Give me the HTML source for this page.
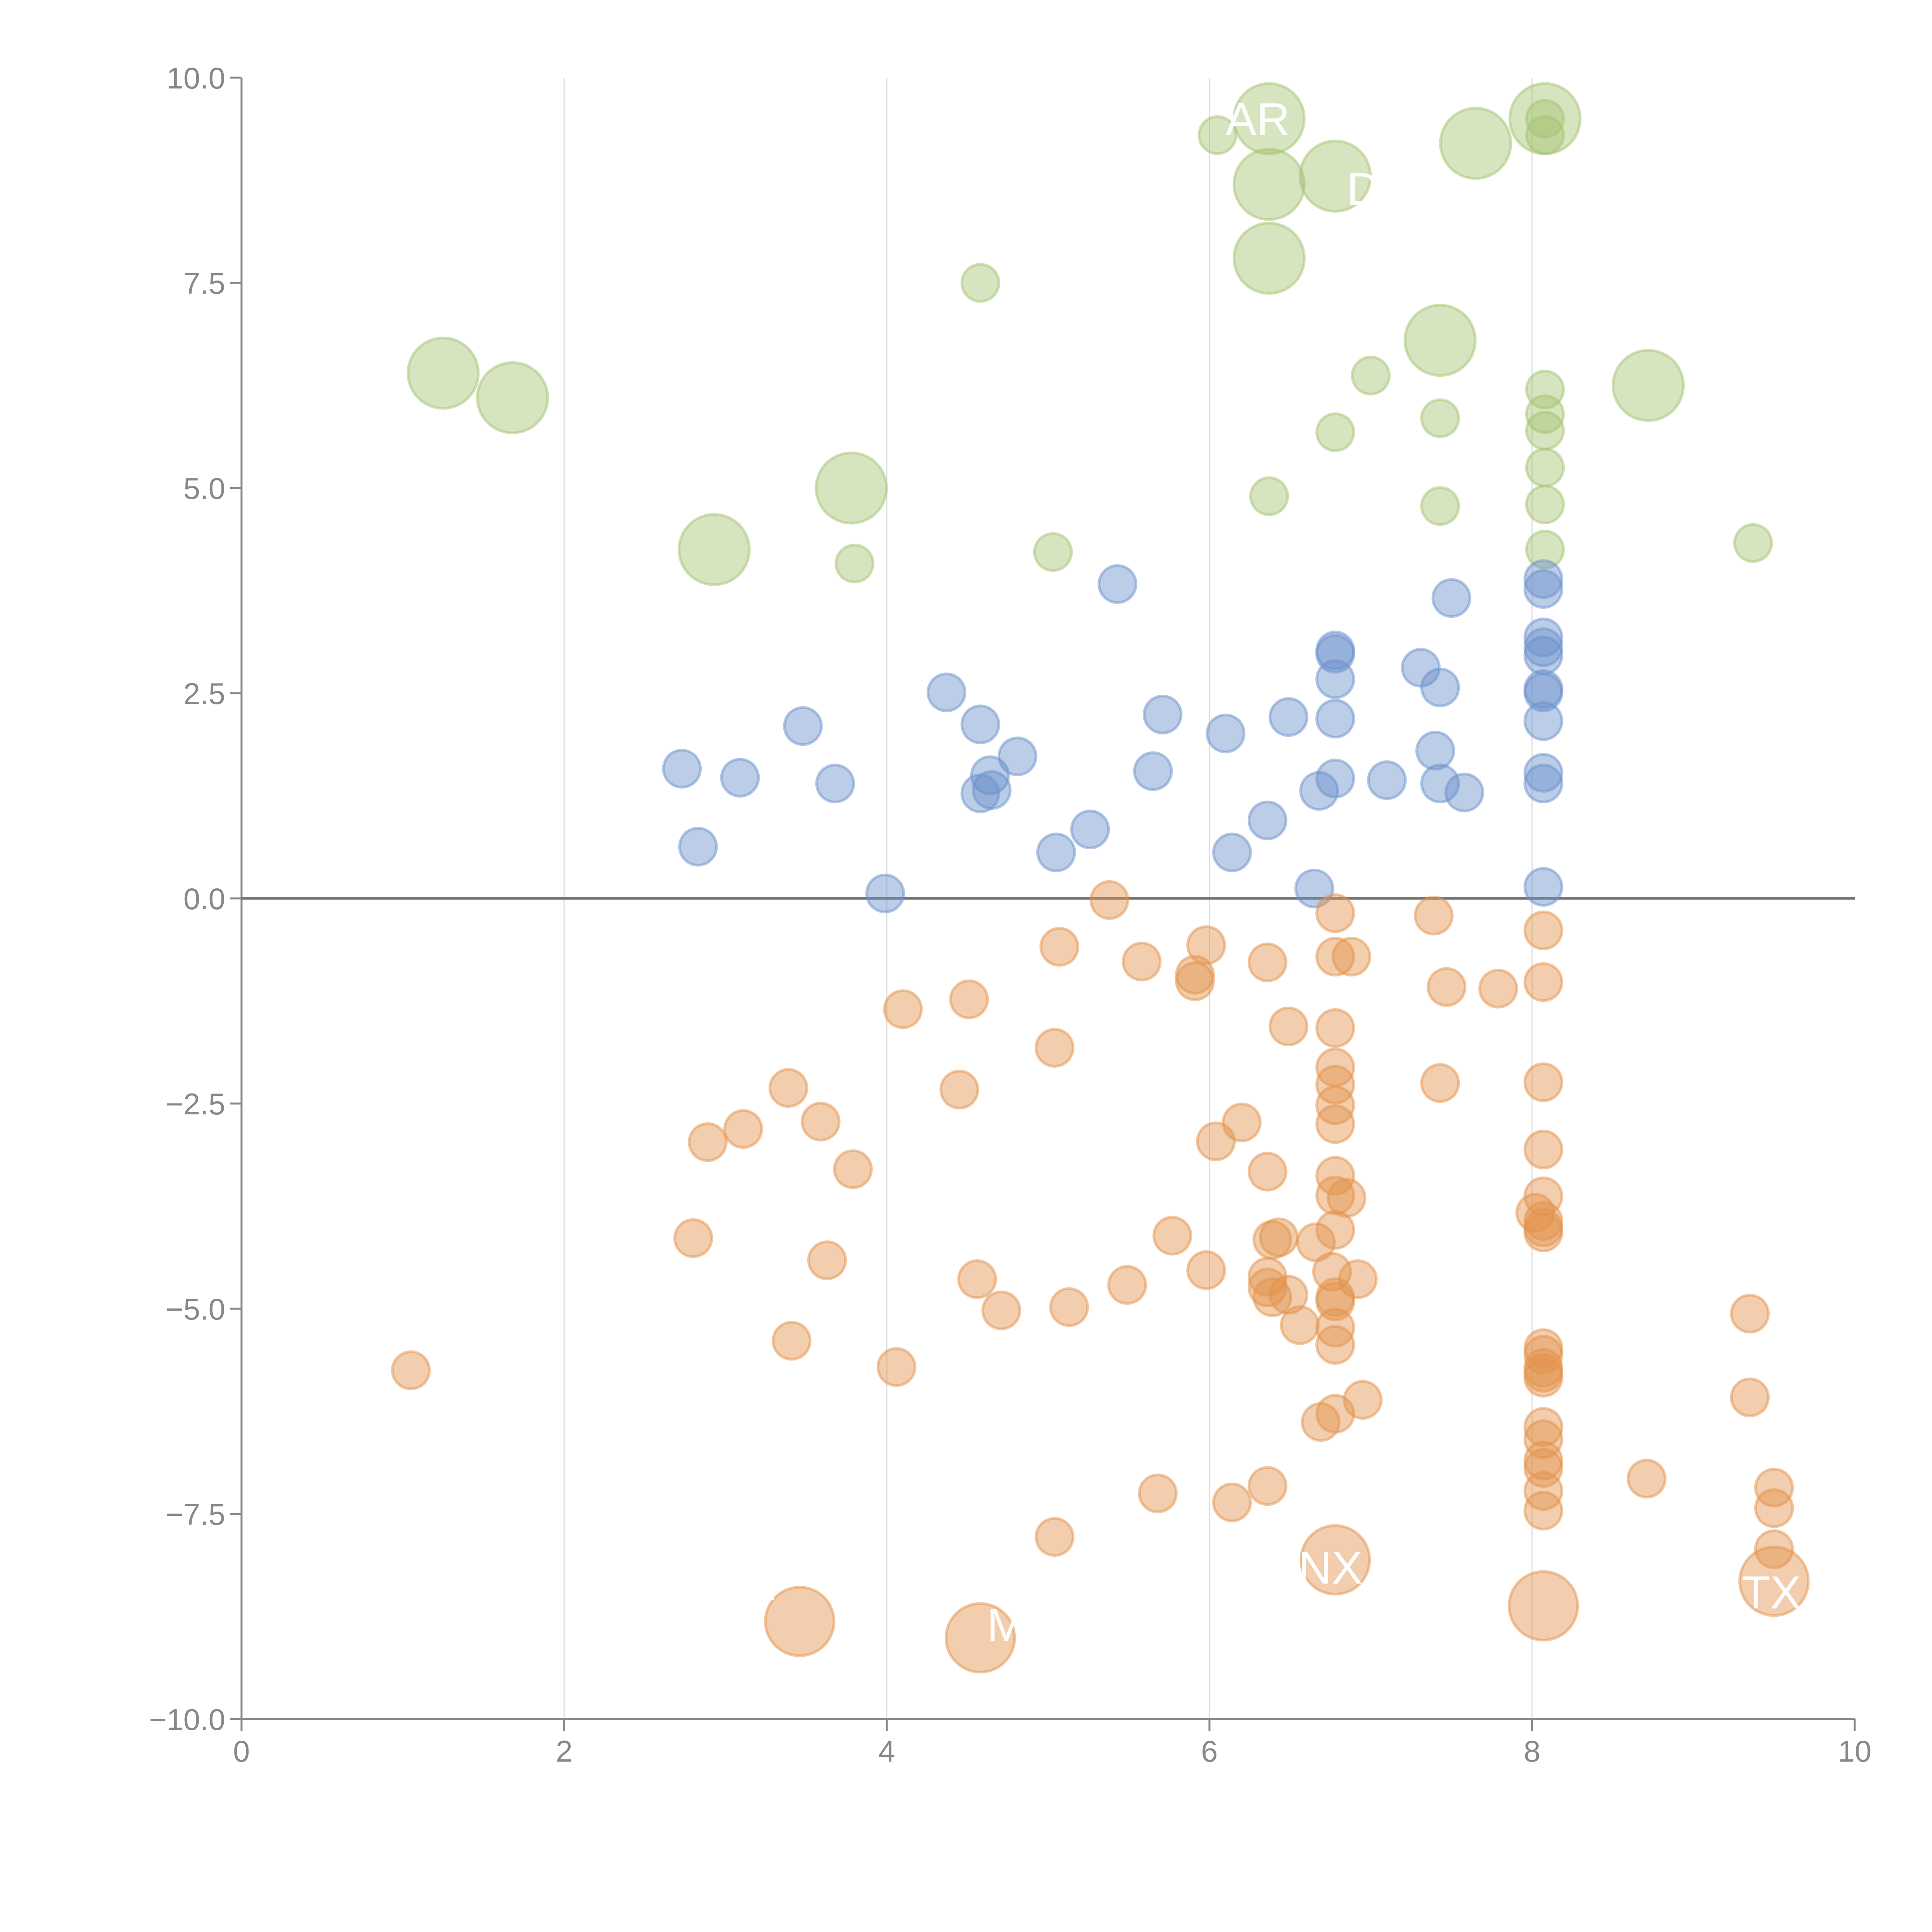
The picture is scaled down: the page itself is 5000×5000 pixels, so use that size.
<!DOCTYPE html>
<html><head><meta charset="utf-8"><style>
html,body{margin:0;padding:0;background:#fff;}
svg{display:block;font-family:"Liberation Sans",Arial,sans-serif;}
</style></head><body>
<svg id="chart" width="5000" height="5000" viewBox="0 0 5000 5000" xmlns="http://www.w3.org/2000/svg">
<rect width="5000" height="5000" fill="#fff"/>
<g id="grid"></g>
<g id="axes"></g>
<g id="marks"></g>
<g id="labels"></g>
</svg>
<script>
const xTicks=[0,2,4,6,8,10];
const yTicks=[-10,-7.5,-5,-2.5,0,2.5,5,7.5,10];
const yTickLabels=["\u221210.0","\u22127.5","\u22125.0","\u22122.5","0.0","2.5","5.0","7.5","10.0"];

const greenX=[1.25,1.68,2.93,3.78,6.37,6.37,6.37,6.78,7.65,7.43,8.08,8.72,4.58,6.05,7.0,6.78,7.43,8.08,8.08,8.08,8.08,8.08,8.08,7.43,6.37,5.03,3.8,9.37,8.08,8.08];
const greenY=[6.4,6.1,4.25,5.0,9.5,8.7,7.8,8.8,9.2,6.8,9.5,6.25,7.5,9.3,6.37,5.68,5.85,6.2,5.9,5.7,5.25,4.8,4.25,4.78,4.9,4.22,4.08,4.33,9.5,9.3];
const greenSize=[3.6,3.6,3.6,3.6,3.6,3.6,3.6,3.6,3.6,3.6,3.6,3.6,1,1,1,1,1,1,1,1,1,1,1,1,1,1,1,1,1,1];

const blueX=[5.43,7.50,8.07,8.07,6.78,6.78,8.07,8.07,8.07,7.31,6.78,7.43,8.07,8.07,4.37,5.71,6.49,6.78,8.07,3.48,4.58,6.10,7.40,4.81,2.73,3.09,5.65,8.07,4.64,6.78,7.10,3.68,7.43,8.07,4.65,4.58,6.68,7.58,5.26,6.36,2.83,5.05,6.14,6.65,8.07,3.99];
const blueY=[3.83,3.66,3.89,3.77,3.02,2.98,3.18,3.06,2.96,2.81,2.67,2.57,2.55,2.51,2.51,2.24,2.21,2.19,2.16,2.10,2.12,2.01,1.80,1.73,1.58,1.47,1.55,1.53,1.50,1.46,1.44,1.40,1.40,1.40,1.32,1.28,1.31,1.29,0.84,0.95,0.63,0.56,0.56,0.12,0.14,0.06];

const orangeX=[5.38,6.78,7.39,8.07,5.07,5.98,5.58,6.36,6.78,6.88,5.91,5.91,8.07,7.47,7.79,4.51,4.10,6.49,6.78,5.04,6.78,6.78,7.43,8.07,3.39,4.45,6.78,6.78,3.59,6.20,3.11,2.89,6.04,8.07,3.79,6.36,6.78,6.78,6.85,8.07,8.02,8.07,8.07,8.07,6.78,5.77,2.80,6.43,6.39,6.66,3.63,5.98,6.36,6.76,6.92,4.56,5.49,6.36,6.39,6.49,6.78,6.78,4.71,5.13,9.35,6.56,6.78,3.41,6.78,8.07,8.07,8.07,8.07,8.07,1.05,4.06,9.35,6.95,6.78,6.69,8.07,8.07,8.07,8.07,8.71,6.36,9.50,5.68,8.07,6.14,9.50,8.07,5.04,9.50,6.78,9.50,8.07,3.46,4.58];
const orangeY=[-0.02,-0.18,-0.21,-0.39,-0.59,-0.57,-0.77,-0.78,-0.71,-0.71,-0.93,-1.01,-1.02,-1.08,-1.10,-1.23,-1.35,-1.56,-1.58,-1.82,-2.06,-2.27,-2.25,-2.24,-2.31,-2.33,-2.52,-2.75,-2.72,-2.73,-2.81,-2.97,-2.96,-3.06,-3.30,-3.33,-3.38,-3.62,-3.65,-3.63,-3.83,-3.93,-4.01,-4.07,-4.04,-4.11,-4.14,-4.13,-4.16,-4.19,-4.41,-4.53,-4.61,-4.55,-4.64,-4.64,-4.71,-4.74,-4.86,-4.83,-4.86,-4.91,-5.02,-4.98,-5.06,-5.20,-5.23,-5.39,-5.44,-5.48,-5.56,-5.72,-5.78,-5.84,-5.75,-5.71,-6.08,-6.11,-6.28,-6.38,-6.44,-6.59,-6.85,-6.94,-7.07,-7.16,-7.18,-7.25,-7.22,-7.36,-7.43,-7.46,-7.78,-7.93,-8.06,-8.32,-8.62,-8.81,-9.01];

const labelText=["AR","DO","TX","NX","M","P"];
const labelX=[6.1,6.85,9.3,6.55,4.62,3.25];
const labelY=[9.3,8.45,-8.65,-8.35,-9.05,-8.55];

const X0=625,X1=4800,Y0=4449,Y1=201;
const xs=v=>X0+(v-0)/(10-0)*(X1-X0);
const ys=v=>Y0-(v+10)/20*(Y0-Y1);
const NS="http://www.w3.org/2000/svg";
function mk(tag,parent,attrs){const e=document.createElementNS(NS,tag);for(const k in attrs)e.setAttribute(k,attrs[k]);parent.appendChild(e);return e;}
const grid=document.getElementById('grid'),axes=document.getElementById('axes'),marks=document.getElementById('marks'),labels=document.getElementById('labels');

xTicks.forEach(t=>{
  if(t>0&&t<10){
    const g=mk('line',grid,{x1:xs(t),x2:xs(t),y1:Y1,y2:Y0,stroke:'#dcdcdc','stroke-width':3});
    
    
  }
  const tk=mk('line',axes,{x1:xs(t),x2:xs(t),y1:Y0,y2:Y0+30,stroke:'#888','stroke-width':5});
  
  
  const tl=mk('text',axes,{x:xs(t),y:Y0+110,'text-anchor':'middle','font-size':78,fill:'#888'});
  tl.textContent=String(t);
  
  
});
yTicks.forEach((t,i)=>{
  const tk=mk('line',axes,{x1:X0-30,x2:X0,y1:ys(t),y2:ys(t),stroke:'#888','stroke-width':5});
  
  
  const tl=mk('text',axes,{x:X0-42,y:ys(t)+28,'text-anchor':'end','font-size':78,fill:'#888'});
  tl.textContent=yTickLabels[i];
  
  
});
const xa=mk('line',axes,{x1:X0,x2:X1,y1:Y0,y2:Y0,stroke:'#888','stroke-width':5});


const ya=mk('line',axes,{x1:X0,x2:X0,y1:Y1,y2:Y0,stroke:'#888','stroke-width':5});



function dot(x,y,r,col,name){
  const c=mk('circle',marks,{cx:xs(x),cy:ys(y),r:r,fill:col,'fill-opacity':0.45,stroke:col,'stroke-opacity':0.5,'stroke-width':7});
  
  
}
const R=48;
greenX.forEach((x,i)=>dot(x,greenY[i],R*Math.sqrt(greenSize[i]),'#a5c472','green-bubble'));
blueX.forEach((x,i)=>dot(x,blueY[i],R,'#6b91cb','blue-bubble'));
orangeX.forEach((x,i)=>{const big=i>=orangeX.length-5;dot(x,orangeY[i],big?R*1.85:R,'#e3924c','orange-bubble');});

const zl=mk('line',axes,{x1:X0,x2:X1,y1:ys(0),y2:ys(0),stroke:'#777','stroke-width':7});



labelText.forEach((s,i)=>{
  const t=mk('text',labels,{x:xs(labelX[i]),y:ys(labelY[i]),'font-size':120,fill:'#fff'});
  t.textContent=s;
  
  
});
</script>
</body></html>
